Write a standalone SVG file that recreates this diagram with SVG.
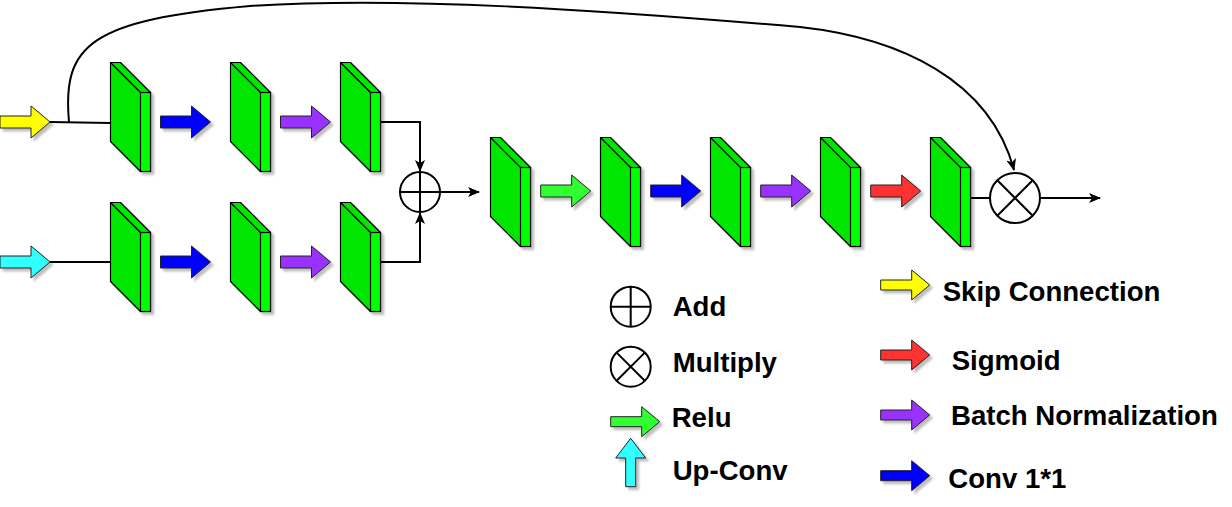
<svg xmlns="http://www.w3.org/2000/svg" xmlns:xlink="http://www.w3.org/1999/xlink" width="1232" height="507" viewBox="0 0 1232 507">
<style>
.blk{fill:#00E600;stroke:#000;stroke-width:1.2;stroke-linejoin:round}
.face{fill:#00FF00;stroke:#000;stroke-width:1.2}
.edge{fill:none;stroke:#000;stroke-width:1.2}
.ar{stroke:#222;stroke-width:1;stroke-linejoin:miter}
.ln{fill:none;stroke:#000;stroke-width:2}
.op{fill:#fff;stroke:#000;stroke-width:2}
.lbl{font-family:"Liberation Sans",Arial,sans-serif;font-weight:bold;font-size:27.6px;fill:#000}
.sh{filter:url(#shadow)}
</style>
<defs>
<filter id="shadow" x="-20%" y="-20%" width="150%" height="150%">
<feDropShadow dx="3" dy="3" stdDeviation="1.2" flood-color="#000" flood-opacity="0.25"/>
</filter>
<g id="block">
<path class="blk" d="M0,0 H10 L40,30 V109 H30 L0,79 Z"/>
<rect class="face" x="30" y="30" width="10" height="79"/>
<path class="edge" d="M0,0 L30,30"/>
</g>
<path id="arr" d="M0,-6 H31 V-16 L50,0 L31,16 V6 H0 Z"/>
<path id="arrS" d="M0,-5 H31 V-15 L49,0 L31,15 V5 H0 Z"/>
<marker id="head" viewBox="0 0 12 10" refX="11" refY="5" markerWidth="12" markerHeight="10" markerUnits="userSpaceOnUse" orient="auto">
<path d="M0,0 L12,5 L0,10 L3,5 Z" fill="#000"/>
</marker>
</defs>
<rect width="1232" height="507" fill="#fff"/>

<g id="connectors">
<path class="ln" d="M69,122 C62,45 90,20 250,6 C400,-4 600,10 800,27 C900,38 990,80 1014,170" marker-end="url(#head)"/>
<path class="ln" d="M50,122 L110.5,123"/>
<path class="ln" d="M50,262 L110.5,262"/>
<path class="ln" d="M380.5,122 H420 V171" marker-end="url(#head)"/>
<path class="ln" d="M380.5,262 H420 V213" marker-end="url(#head)"/>
<path class="ln" d="M440,192 H479" marker-end="url(#head)"/>
<path class="ln" d="M970.5,198 H990"/>
<path class="ln" d="M1040,198 H1100" marker-end="url(#head)"/>
</g>

<g id="input-skip"><use xlink:href="#arr" class="ar sh" x="0" y="122" fill="#FFFF00"/></g>
<g id="input-upconv"><use xlink:href="#arr" class="ar sh" x="0" y="262" fill="#33FFFF"/></g>

<g id="top-block-1"><use xlink:href="#block" class="sh" x="110.5" y="62.5"/></g>
<g id="top-arrow-1"><use xlink:href="#arr" class="ar sh" x="160.5" y="122" fill="#0000FF"/></g>
<g id="top-block-2"><use xlink:href="#block" class="sh" x="230.5" y="62.5"/></g>
<g id="top-arrow-2"><use xlink:href="#arr" class="ar sh" x="280.5" y="122" fill="#9933FF"/></g>
<g id="top-block-3"><use xlink:href="#block" class="sh" x="340.5" y="62.5"/></g>

<g id="bottom-block-1"><use xlink:href="#block" class="sh" x="110.5" y="202.5"/></g>
<g id="bottom-arrow-1"><use xlink:href="#arr" class="ar sh" x="160.5" y="262" fill="#0000FF"/></g>
<g id="bottom-block-2"><use xlink:href="#block" class="sh" x="230.5" y="202.5"/></g>
<g id="bottom-arrow-2"><use xlink:href="#arr" class="ar sh" x="280.5" y="262" fill="#9933FF"/></g>
<g id="bottom-block-3"><use xlink:href="#block" class="sh" x="340.5" y="202.5"/></g>

<g id="add-node">
<circle class="op" cx="420" cy="192" r="20"/>
<path class="ln" d="M400,192 H440 M420,172 V212"/>
</g>

<g id="mid-block-1"><use xlink:href="#block" class="sh" x="490.5" y="137.5"/></g>
<g id="mid-arrow-1"><use xlink:href="#arr" class="ar sh" x="540.7" y="191" fill="#33FF33"/></g>
<g id="mid-block-2"><use xlink:href="#block" class="sh" x="600.5" y="137.5"/></g>
<g id="mid-arrow-2"><use xlink:href="#arr" class="ar sh" x="650.7" y="191" fill="#0000FF"/></g>
<g id="mid-block-3"><use xlink:href="#block" class="sh" x="710.5" y="137.5"/></g>
<g id="mid-arrow-3"><use xlink:href="#arr" class="ar sh" x="760.7" y="191" fill="#9933FF"/></g>
<g id="mid-block-4"><use xlink:href="#block" class="sh" x="820.5" y="137.5"/></g>
<g id="mid-arrow-4"><use xlink:href="#arr" class="ar sh" x="870.7" y="191" fill="#FF3333"/></g>
<g id="mid-block-5"><use xlink:href="#block" class="sh" x="930.5" y="137.5"/></g>

<g id="multiply-node">
<circle class="op" cx="1015" cy="198" r="25"/>
<path class="ln" d="M997.3,180.3 L1032.7,215.7 M1032.7,180.3 L997.3,215.7"/>
</g>

<g id="legend-add">
<circle class="op" cx="630.7" cy="306.7" r="20"/>
<path class="ln" d="M610.7,306.7 H650.7 M630.7,286.7 V326.7"/>
<text class="lbl" x="672.7" y="316">Add</text>
</g>
<g id="legend-multiply">
<circle class="op" cx="630.7" cy="366.7" r="20"/>
<path class="ln" d="M616.6,352.6 L644.8,380.8 M644.8,352.6 L616.6,380.8"/>
<text class="lbl" x="672.7" y="372">Multiply</text>
</g>
<g id="legend-relu">
<use xlink:href="#arrS" class="ar sh" x="610.7" y="421.7" fill="#33FF33"/>
<text class="lbl" x="671.7" y="427">Relu</text>
</g>
<g id="legend-upconv">
<path class="ar sh" fill="#33FFFF" d="M625.7,486.7 V458 H615.7 L630.7,438.3 L645.7,458 H635.7 V486.7 Z"/>
<text class="lbl" x="672.7" y="480">Up-Conv</text>
</g>
<g id="legend-skip">
<use xlink:href="#arrS" class="ar sh" x="880.7" y="285" fill="#FFFF00"/>
<text class="lbl" x="942.7" y="301">Skip Connection</text>
</g>
<g id="legend-sigmoid">
<use xlink:href="#arrS" class="ar sh" x="880.7" y="355" fill="#FF3333"/>
<text class="lbl" x="951.7" y="370">Sigmoid</text>
</g>
<g id="legend-bn">
<use xlink:href="#arrS" class="ar sh" x="880.7" y="415" fill="#9933FF"/>
<text class="lbl" x="951" y="425">Batch Normalization</text>
</g>
<g id="legend-conv">
<use xlink:href="#arrS" class="ar sh" x="880.7" y="475.7" fill="#0000FF"/>
<text class="lbl" x="948.3" y="488">Conv 1*1</text>
</g>
</svg>
